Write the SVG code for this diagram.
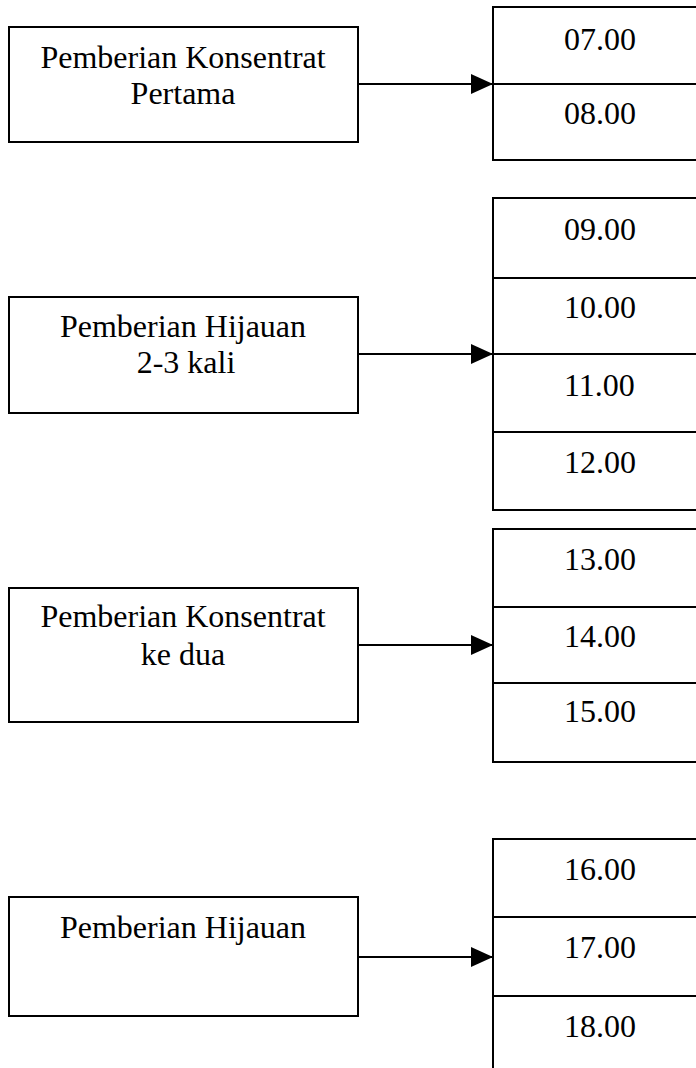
<svg xmlns="http://www.w3.org/2000/svg" width="696" height="1068" viewBox="0 0 696 1068">
<defs>
<style>
.box{fill:#fff;stroke:#000;stroke-width:2}
.div{stroke:#000;stroke-width:2}
.lbl{font-family:"Liberation Serif","Times New Roman",serif;font-size:32px;fill:#000;text-anchor:middle}
.tm{font-family:"Liberation Serif","Times New Roman",serif;font-size:32px;fill:#000;text-anchor:start}
.conn{stroke:#000;stroke-width:2;fill:none;marker-end:url(#arr)}
</style>
<marker id="arr" markerUnits="userSpaceOnUse" markerWidth="22" markerHeight="20" refX="22" refY="10" orient="auto">
<path d="M0,0 L22,10 L0,20 Z" fill="#000"/>
</marker>
</defs>
<rect width="696" height="1068" fill="#fff"/>

<g id="node-konsentrat-pertama">
<rect class="box" x="9" y="27" width="349" height="115"/>
<text class="lbl" x="183" y="68">Pemberian Konsentrat</text>
<text class="lbl" x="183" y="104">Pertama</text>
</g>
<g id="node-jam-07-08">
<rect class="box" x="493" y="7" width="220" height="153"/>
<line class="div" x1="493" y1="84" x2="700" y2="84"/>
<text class="tm" x="564" y="50">07.00</text>
<text class="tm" x="564" y="124">08.00</text>
</g>

<g id="node-hijauan-2-3">
<rect class="box" x="9" y="297" width="349" height="116"/>
<text class="lbl" x="183" y="337">Pemberian Hijauan</text>
<text class="lbl" x="186" y="373">2-3 kali</text>
</g>
<g id="node-jam-09-12">
<rect class="box" x="493" y="198" width="220" height="312"/>
<line class="div" x1="493" y1="278" x2="700" y2="278"/>
<line class="div" x1="493" y1="354" x2="700" y2="354"/>
<line class="div" x1="493" y1="432" x2="700" y2="432"/>
<text class="tm" x="564" y="240">09.00</text>
<text class="tm" x="564" y="318">10.00</text>
<text class="tm" x="564" y="396">11.00</text>
<text class="tm" x="564" y="473">12.00</text>
</g>

<g id="node-konsentrat-ke-dua">
<rect class="box" x="9" y="588" width="349" height="134"/>
<text class="lbl" x="183" y="627">Pemberian Konsentrat</text>
<text class="lbl" x="183" y="665">ke dua</text>
</g>
<g id="node-jam-13-15">
<rect class="box" x="493" y="529" width="220" height="233"/>
<line class="div" x1="493" y1="607" x2="700" y2="607"/>
<line class="div" x1="493" y1="683" x2="700" y2="683"/>
<text class="tm" x="564" y="570">13.00</text>
<text class="tm" x="564" y="647">14.00</text>
<text class="tm" x="564" y="722">15.00</text>
</g>

<g id="node-hijauan">
<rect class="box" x="9" y="897" width="349" height="119"/>
<text class="lbl" x="183" y="938">Pemberian Hijauan</text>
</g>
<g id="node-jam-16-18">
<rect class="box" x="493" y="839" width="220" height="240"/>
<line class="div" x1="493" y1="917" x2="700" y2="917"/>
<line class="div" x1="493" y1="996" x2="700" y2="996"/>
<text class="tm" x="564" y="880">16.00</text>
<text class="tm" x="564" y="958">17.00</text>
<text class="tm" x="564" y="1037">18.00</text>
</g>

<g id="connectors">
<line class="conn" x1="358" y1="84" x2="493" y2="84"/>
<line class="conn" x1="358" y1="354" x2="493" y2="354"/>
<line class="conn" x1="358" y1="645" x2="493" y2="645"/>
<line class="conn" x1="358" y1="957" x2="493" y2="957"/>
</g>
</svg>
